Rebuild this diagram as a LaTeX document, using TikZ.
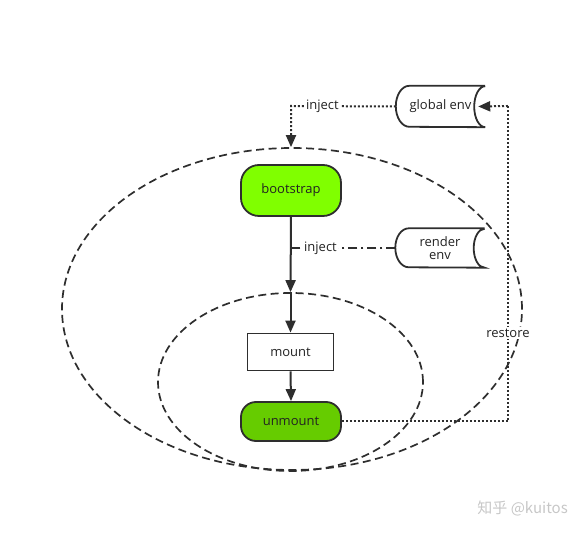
\documentclass[tikz,border=0pt]{standalone}
\usepackage{fontspec}
\setmainfont{Open Sans}
\newfontfamily\cjk{Noto Sans CJK SC}
\usetikzlibrary{arrows.meta,shapes.geometric}
\definecolor{ln}{HTML}{2E2E2E}
\definecolor{txt}{HTML}{222222}
\definecolor{brightgreen}{HTML}{80FF00}
\definecolor{darkgreen}{HTML}{66CC00}
\begin{document}
\begin{tikzpicture}[x=1pt,y=-1pt,
  every node/.style={font=\fontsize{13}{15.5}\selectfont, text=txt},
  box/.style={draw=ln, line width=1.8pt, inner sep=0pt},
  greenbox/.style={box, rounded corners=#1, minimum width=100pt},
  storagenode/.style={inner sep=0pt, minimum width=89pt, align=center},
  ring/.style={draw=ln, ellipse, dash pattern=on 8pt off 4.5pt, line width=1.7pt, inner sep=0pt},
  arr/.style={draw=ln, line width=2pt, -{Triangle[length=12pt,width=10pt]}},
  dotarr/.style={draw=ln, line width=2pt, dash pattern=on 2pt off 2pt, -{Triangle[length=12pt,width=10pt]}},
  dotline/.style={draw=ln, line width=2pt, dash pattern=on 2pt off 2pt},
  dashdotline/.style={draw=ln, line width=2pt, dash pattern=on 9pt off 4pt on 2pt off 4pt},
  lbl/.style={fill=white, inner sep=1.5pt},
  shp/.style={draw=ln, line width=1.8pt}
]
\useasboundingbox (0,0) rectangle (582,534);

% ellipses
\node[ring, minimum width=460pt, minimum height=322pt] (outer) at (292,309) {};
\node[ring, minimum width=265pt, minimum height=178pt] (inner) at (290.5,382) {};

% nodes
\node[greenbox=18pt, fill=brightgreen, minimum height=51pt] (boot) at (291,190.5) {bootstrap};
\node[box, fill=white, minimum width=86pt, minimum height=37pt] (mount) at (290.5,352) {mount};
\node[greenbox=15pt, fill=darkgreen, minimum height=39pt] (unmount) at (291,421.5) {unmount};

\node[storagenode, minimum height=41pt] (genv) at (440.5,106.5) {global env};
\node[storagenode, minimum height=39pt, text width=60pt] (renv) at (440,248) {render\\[-2pt]env};

% storage outlines
\draw[shp] (genv.north east) -- ([xshift=13.5pt]genv.north west)
  arc[start angle=270, end angle=90, x radius=13.5, y radius=20.5]
  -- (genv.south east)
  arc[start angle=90, end angle=270, x radius=11, y radius=20.5];
\draw[shp] (renv.north east) -- ([xshift=13.5pt]renv.north west)
  arc[start angle=270, end angle=90, x radius=13.5, y radius=19.5]
  -- (renv.south east)
  arc[start angle=90, end angle=270, x radius=11, y radius=19.5];

% helper coordinates
\coordinate (rc) at (508,106);
\coordinate (tc) at (291,106);
\coordinate (ic) at (290.5,248);

% connectors
\draw[arr] (boot.south) -- (inner.north);
\draw[arr] (inner.north) -- (mount.north);
\draw[arr] (mount.south) -- (unmount.north);

\draw[dashdotline] (renv.west) -- node[lbl, pos=0.714] (lblinj2) {inject} (ic);

\draw[dotarr] (genv.west) -- node[lbl, pos=0.7] (lblinj1) {inject} (tc) -- ([xshift=-1pt]outer.north);

\draw[dotline] (unmount.east) -- (unmount.east -| rc) -- node[lbl, pos=0.28] (lblrest) {restore} (rc);
\draw[dotarr] (rc) -- ([xshift=-7pt]genv.east);

% watermark
\node[text=black!22, font={\cjk\fontsize{15}{18}\selectfont}, anchor=east, inner sep=0pt] (wm) at (568,508) {知乎 @kuitos};
\end{tikzpicture}
\end{document}
